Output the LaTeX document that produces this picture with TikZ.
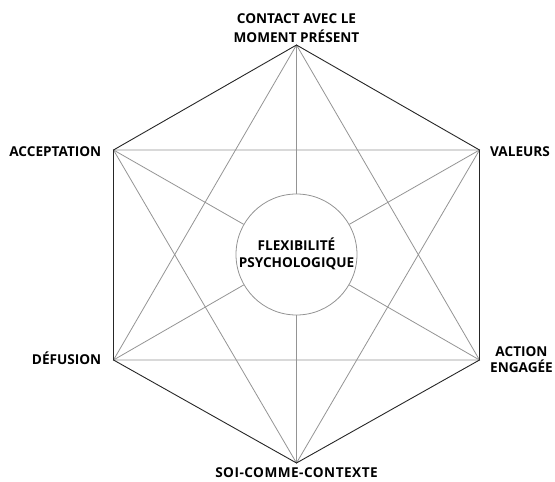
\documentclass[tikz,border=0pt]{standalone}
\usepackage{fontspec}
\setmainfont{Open Sans}
\newfontfamily\widefont[LetterSpace=3.5]{Open Sans}
\begin{document}
\begin{tikzpicture}[x=1pt,y=1pt,
  hexedge/.style={draw=black!85,line width=0.9pt},
  greyline/.style={draw=black!42,line width=0.8pt},
  lbl/.style={font=\bfseries\fontsize{13.6}{16}\selectfont,inner sep=0pt,anchor=base}]
\useasboundingbox (0,0) rectangle (555,482);
% vertices
\coordinate (T) at (296.5,437);
\coordinate (UR) at (479.5,332);
\coordinate (LR) at (479.5,122);
\coordinate (B) at (296.5,19);
\coordinate (LL) at (113.5,122);
\coordinate (UL) at (113.5,332);
\node[circle,draw=black!42,line width=0.8pt,minimum size=121pt,inner sep=0pt] (C) at (296.5,227.5) {};
% grey triangles
\draw[greyline] (T) -- (LL) -- (LR) -- cycle;
\draw[greyline] (B) -- (UL) -- (UR) -- cycle;
% spokes
\foreach \v in {T,UR,LR,B,LL,UL} \draw[greyline] (\v) -- (C);
% hexagon
\draw[hexedge,line join=miter] (T) -- (UR) -- (LR) -- (B) -- (LL) -- (UL) -- cycle;
% labels
\node[lbl] (t1) at (296.5,458) {CONTACT AVEC LE};
\node[lbl] (t2) at (296.5,439.5) {MOMENT PRÉSENT};
\node[lbl,anchor=base east] (acc) at (101.5,325) {ACCEPTATION};
\node[lbl,anchor=base west] (val) at (490,325.5) {VALEURS};
\node[lbl,anchor=base east] (def) at (101.5,117) {DÉFUSION};
\node[lbl] (ac1) at (521.5,125.5) {ACTION};
\node[lbl] (ac2) at (521.5,109) {ENGAGÉE};
\node[lbl,font=\widefont\bfseries\fontsize{13.6}{16}\selectfont] (soi) at (296.5,4) {SOI-COMME-CONTEXTE};
\node[lbl] (f1) at (296.5,231) {FLEXIBILITÉ};
\node[lbl] (f2) at (296.5,214) {PSYCHOLOGIQUE};
\end{tikzpicture}
\end{document}
